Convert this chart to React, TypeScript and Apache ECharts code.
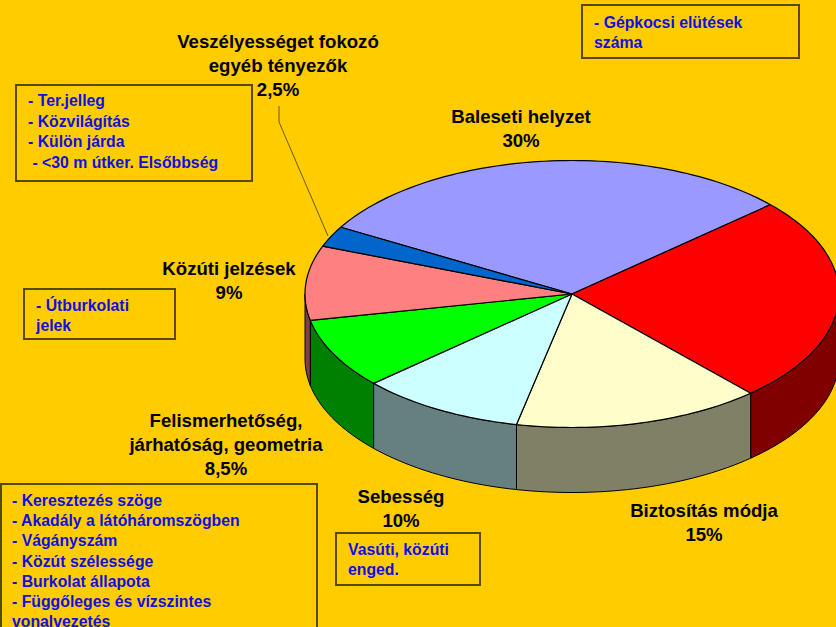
import React, { useEffect, useRef } from "react";
import * as echarts from "echarts";

// ---- data ----
const categories = [
  "Baleseti helyzet",
  "",
  "Biztosítás módja",
  "Sebesség",
  "Felismerhetőség,\njárhatóság, geometria",
  "Közúti jelzések",
  "Veszélyességet fokozó\negyéb tényezők",
];
const values = [30, 25, 15, 10, 8.5, 9, 2.5];
const topColors = ["#9999FF", "#FF0000", "#FFFFCC", "#CCFFFF", "#00FF00", "#FF8080", "#0066CC"];
const sideColors = ["#4D4D80", "#800000", "#808066", "#668080", "#008000", "#804040", "#003366"];

const noteTerJelleg = ["- Ter.jelleg", "- Közvilágítás", "- Külön járda", " - <30 m útker. Elsőbbség"];
const noteGepkocsi = ["- Gépkocsi elütések", "száma"];
const noteUtburkolati = ["- Útburkolati", "jelek"];
const noteFelismerhetoseg = [
  "- Keresztezés szöge",
  "- Akadály a látóháromszögben",
  "- Vágányszám",
  "- Közút szélessége",
  "- Burkolat állapota",
  "- Függőleges és vízszintes",
  "vonalvezetés",
];
const noteVasuti = ["Vasúti, közúti", "enged."];

// ---- layout (not data) ----
const CX = 572;
const CY = 294;
const RA = 267;
const RB = 133.5;
const DEPTH = 65;
const START_DEG = 210;

const labelPos: number[][] = [
  [521, 128.5],
  [0, 0],
  [704, 522],
  [401, 508],
  [226, 444],
  [229, 280],
  [278, 65.5],
];

const LABEL_FONT = 'bold 18.6px "Liberation Sans", Arial, sans-serif';
const NOTE_FONT = 'bold 15.8px "Liberation Sans", Arial, sans-serif';
const NOTE_COLOR = "#1010E0";
const BOX_COLOR = "#5a4800";

const fmtPct = (v: number) => String(v).replace(".", ",") + "%";

function pt(deg: number, dy = 0): number[] {
  const r = (deg * Math.PI) / 180;
  return [CX + RA * Math.cos(r), CY + RB * Math.sin(r) + dy];
}

function arcPts(d1: number, d2: number, dy = 0): number[][] {
  const out: number[][] = [];
  const n = Math.max(2, Math.ceil(Math.abs(d2 - d1) / 1.5));
  for (let k = 0; k <= n; k++) out.push(pt(d1 + ((d2 - d1) * k) / n, dy));
  return out;
}

function noteBox(x: number, y: number, w: number, h: number, lines: string[], tx: number, ty: number, lh: number) {
  return [
    {
      type: "rect",
      shape: { x, y, width: w, height: h },
      style: { fill: "transparent", stroke: BOX_COLOR, lineWidth: 2 },
      z: 10,
    },
    {
      type: "text",
      x: tx,
      y: ty,
      style: {
        text: lines.join("\n"),
        font: NOTE_FONT,
        fill: NOTE_COLOR,
        lineHeight: lh,
        align: "left",
        verticalAlign: "top",
      },
      z: 11,
    },
  ];
}

export default function App() {
  const ref = useRef<HTMLDivElement>(null);
  useEffect(() => {
    if (!ref.current) return;
    const chart = echarts.init(ref.current, undefined, { renderer: "svg" });
    const total = values.reduce((s, v) => s + v, 0);

    const labels: any[] = [];
    categories.forEach((name, i) => {
      if (!name) return;
      labels.push({
        type: "text",
        x: labelPos[i][0],
        y: labelPos[i][1],
        style: {
          text: name + "\n" + fmtPct(values[i]),
          font: LABEL_FONT,
          fill: "#000000",
          lineHeight: 24,
          align: "center",
          verticalAlign: "middle",
        },
        z: 12,
      });
    });

    const option: any = {
      animation: false,
      backgroundColor: "#FFCC00",
      series: [
        {
          type: "custom",
          coordinateSystem: "none",
          data: values.map((v, i) => ({ value: v, name: categories[i] })),
          renderItem: (params: any, api: any) => {
            const i = params.dataIndex;
            const v = api.value(0);
            let before = 0;
            for (let k = 0; k < i; k++) before += values[k];
            const d1 = START_DEG + (before / total) * 360;
            const d2 = d1 + (v / total) * 360;
            const children: any[] = [];
            // side walls (front-visible parts: angle mod 360 in [0,180])
            for (let base = 0; base <= 720; base += 360) {
              const s = Math.max(d1, base);
              const e = Math.min(d2, base + 180);
              if (e > s) {
                const top = arcPts(s, e, 0);
                const bottom = arcPts(e, s, DEPTH);
                children.push({
                  type: "polygon",
                  shape: { points: top.concat(bottom) },
                  style: { fill: sideColors[i], stroke: "#000", lineWidth: 1, lineJoin: "round" },
                  z2: 1,
                });
              }
            }
            // top face
            children.push({
              type: "polygon",
              shape: { points: [[CX, CY]].concat(arcPts(d1, d2, 0)) },
              style: { fill: topColors[i], stroke: "#000", lineWidth: 1.2, lineJoin: "round" },
              z2: 5,
            });
            return { type: "group", children };
          },
        },
      ],
      graphic: [
        {
          type: "polyline",
          shape: { points: [[279, 106], [279, 122], [328, 236]] },
          style: { stroke: "#6b5500", lineWidth: 1, fill: null },
          z: 9,
        },
        ...labels,
        ...noteBox(16, 85, 236, 96, noteTerJelleg, 28, 90, 20.7),
        ...noteBox(582, 5, 217, 53, noteGepkocsi, 594, 12, 20),
        ...noteBox(24, 289, 151, 50, noteUtburkolati, 36, 295, 20),
        ...noteBox(1, 484, 316, 200, noteFelismerhetoseg, 12, 490, 20.3),
        ...noteBox(336, 533, 144, 52, noteVasuti, 348, 540, 19.5),
      ],
    };
    chart.setOption(option);
    return () => chart.dispose();
  }, []);
  return (
    <div
      ref={ref}
      style={{ position: "fixed", left: 0, top: 0, width: 836, height: 627 }}
    />
  );
}
